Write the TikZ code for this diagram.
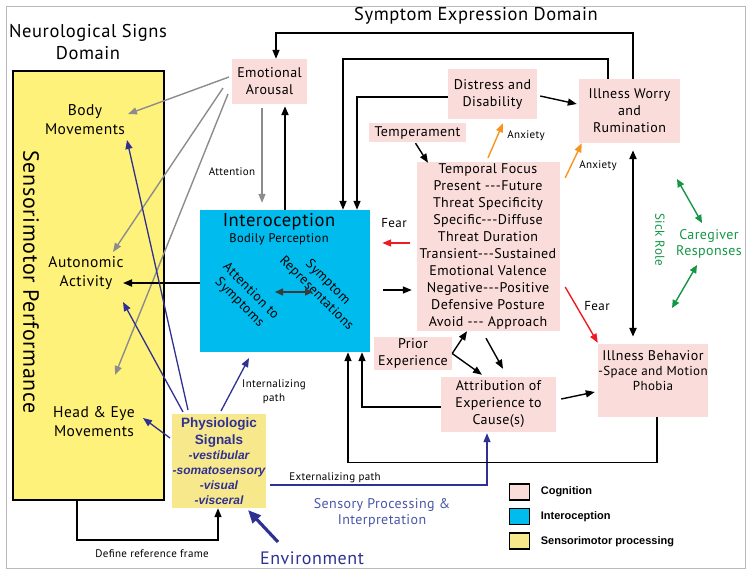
\documentclass[tikz,border=0pt]{standalone}
\usepackage{fontspec}
\setmainfont{PT Sans}[LetterSpace=3]
\newfontfamily\arialfont{Liberation Sans}
\usetikzlibrary{arrows.meta,calc,positioning}

\definecolor{cogpink}{RGB}{250,221,218}
\definecolor{introcyan}{RGB}{0,187,238}
\definecolor{smyellow}{RGB}{255,242,122}
\definecolor{physyellow}{RGB}{248,232,140}
\definecolor{navyblue}{RGB}{46,49,146}
\definecolor{sensblue}{RGB}{72,86,168}
\definecolor{cgreen}{RGB}{20,150,70}
\definecolor{anxorange}{RGB}{247,148,29}
\definecolor{fearred}{RGB}{237,28,36}
\definecolor{arrgray}{RGB}{140,140,140}
\definecolor{dblgray}{RGB}{58,58,58}

\tikzset{
  tip/.style={-{Triangle[length=9pt,width=7pt]}},
  arr/.style={tip, line width=1.4pt},
  cogbox/.style={fill=cogpink, align=center, inner sep=0pt,
    font=\fontsize{14}{17}\selectfont},
  smtext/.style={align=center, font=\fontsize{15.5}{19}\selectfont},
  title/.style={align=center, font=\fontsize{18.5}{22}\selectfont},
  smalllbl/.style={align=center, font=\fontsize{11}{14}\selectfont},
  swatch/.style={draw, line width=1.6pt, minimum width=20pt, minimum height=16pt, inner sep=0pt},
  legtext/.style={font=\arialfont\bfseries\fontsize{11}{13}\selectfont, anchor=west},
}

\begin{document}
\begin{tikzpicture}[x=1pt,y=-1pt]
\useasboundingbox (0,0) rectangle (752,576);
\draw[gray!55, line width=1pt] (6,6) rectangle (745,568);

% domains
\node[title] (neurotitle) at (88,42) {Neurological Signs\\Domain};
\node[title] (symtitle) at (476,16) {Symptom Expression Domain};

% sensorimotor block
\node[draw, line width=2pt, fill=smyellow, minimum width=151pt, minimum height=429pt, inner sep=0pt] (smbox) at (88.5,285.5) {};
\node[rotate=-90, font=\fontsize{22}{26}\selectfont] (smlabel) at (31,282) {Sensorimotor Performance};
\node[smtext] (body) at (85,120) {Body\\Movements};
\node[smtext] (auto) at (86,273) {Autonomic\\Activity};
\node[smtext] (head) at (94,422) {Head \& Eye\\Movements};

% cognition
\node[cogbox, minimum width=75pt, minimum height=45pt] (emo) at (269.5,81.5) {Emotional\\Arousal};
\node[cogbox, minimum width=89pt, minimum height=50pt] (distress) at (492.5,94) {Distress and\\Disability};
\node[cogbox, minimum width=101pt, minimum height=64pt] (worry) at (629.5,111) {Illness Worry\\and\\Rumination};
\node[cogbox, minimum width=97pt, minimum height=19pt] (temper) at (417.5,132.5) {Temperament};
\node[cogbox, minimum width=143pt, minimum height=169pt] (temporal) at (488,246.5)
  {Temporal Focus\\Present -{}-{}-Future\\Threat Specificity\\Specific-{}-{}-Diffuse\\Threat Duration\\
   Transient-{}-{}-Sustained\\Emotional Valence\\Negative-{}-{}-Positive\\Defensive Posture\\Avoid -{}-{}- Approach};
\node[cogbox, minimum width=78pt, minimum height=33pt] (prior) at (413,353.5) {Prior\\Experience};
\node[cogbox, minimum width=115pt, minimum height=55pt] (attrib) at (498.5,404.5) {Attribution of\\Experience to\\Cause(s)};
\node[cogbox, minimum width=110pt, minimum height=73pt, font=\fontsize{13}{15}\selectfont] (behav) at (653,380.5)
  {{\fontsize{14}{15}\selectfont Illness Behavior}\\-Space and Motion\\Phobia\\[4pt]};

% interoception
\node[fill=introcyan, minimum width=170pt, minimum height=142pt, inner sep=0pt] (intero) at (285,281) {};
\node[font=\fontsize{18.5}{20}\selectfont] (introtitle) at (279,222) {Interoception};
\node[font=\fontsize{12.5}{14}\selectfont] (bodily) at (279,239) {Bodily Perception};
\node[rotate=-45, align=center, inner sep=0pt, font=\fontsize{13.5}{16}\selectfont] (att) at (245,297) {Attention to\\Symptoms};
\node[rotate=-45, align=center, inner sep=0pt, font=\fontsize{13.5}{16}\selectfont] (rep) at (322,288) {Symptom\\Representations};
\draw[{Triangle[length=8pt,width=7pt]}-{Triangle[length=8pt,width=7pt]}, line width=1.4pt, dblgray]
  ($(att)+(30,-5)$) -- ($(rep)+(-9,4)$);

% physiologic signals
\node[fill=physyellow, minimum width=80pt, minimum height=94pt, inner sep=0pt, align=center, text=navyblue,
  font=\arialfont\bfseries\fontsize{12}{15}\selectfont] (physio) at (219,461)
  {{\fontsize{13.5}{18}\selectfont Physiologic}\\[2pt]{\fontsize{13.5}{18}\selectfont Signals}\\
   \itshape -vestibular\\{\setlength\fboxsep{0.5pt}\colorbox{physyellow}{\itshape -somatosensory}}\\\itshape -visual\\\itshape -visceral};
\node[font=\fontsize{18}{22}\selectfont, text=navyblue] (env) at (312,558) {Environment};
\node[align=center, text=sensblue, font=\fontsize{14}{16}\selectfont] (sensproc) at (382,513) {Sensory Processing \&\\Interpretation};

% labels
\node[smalllbl] (attlbl) at (232,172) {Attention};
\node[smalllbl] (intlbl) at (274,392) {Internalizing\\path};
\node[smalllbl] (extlbl) at (335,478) {Externalizing path};
\node[smalllbl] (reflbl) at (152,554) {Define reference frame};
\node[font=\fontsize{13}{15}\selectfont] (fear1) at (394,223) {Fear};
\node[font=\fontsize{13}{15}\selectfont] (fear2) at (597,306) {Fear};
\node[smalllbl] (anx1) at (526,136) {Anxiety};
\node[smalllbl] (anx2) at (598,166) {Anxiety};
\node[rotate=-90, text=cgreen, font=\fontsize{13}{15}\selectfont] (sick) at (660,240) {Sick Role};
\node[align=center, text=cgreen, font=\fontsize{14}{16}\selectfont] (care) at (709,244) {Caregiver\\Responses};

% legend
\node[swatch, fill=cogpink] (legcog) at (519.5,492) {};
\node[legtext, right=7pt of legcog] (legcogt) {Cognition};
\node[swatch, fill=introcyan, below=7pt of legcog] (legint) {};
\node[legtext, right=7pt of legint] (leginte) {Interoception};
\node[swatch, fill=physyellow, below=7pt of legint] (legsm) {};
\node[legtext, right=7pt of legsm] (legsmt) {Sensorimotor processing};

% feedback loops on top
\draw[arr] ($(worry.north)+(3.5,0)$) -- ++(0,-46) -| ($(emo.north)+(6.5,0)$);
\draw[arr] ($(worry.north)+(-21.5,0)$) -- ++(0,-20) -| ($(intero.north)+(58,0)$);
\draw[arr] ($(distress.west)+(0,3)$) -| ($(intero.north)+(72,0)$);
\draw[arr] ($(distress.east)+(3,2)$) -- ($(worry.west)+(-2,-7)$);
\draw[arr] ($(temper.south)+(-2,1)$) -- ($(temporal.north)+(-60,1)$);
\draw[tip, line width=1.4pt, anxorange] ($(temporal.north)+(0,-4)$) -- ($(distress.south)+(10.5,4)$);
\draw[tip, line width=1.4pt, anxorange] ($(temporal.north east)+(5.5,16)$) -- ($(worry.south west)+(3,0)$);

% emotional arousal
\draw[tip, line width=1.4pt, arrgray] ($(emo.south)+(-7.5,4)$) -- ($(intero.north)+(-23,-7)$);
\draw[arr, line width=2pt] (intero.north) -- ($(emo.south)+(15.5,2)$);
\draw[tip, line width=1.4pt, arrgray] ($(emo)+(-40.5,-4.5)$) -- ($(body)+(43,-6)$);
\draw[tip, line width=1.4pt, arrgray] ($(emo)+(-46.5,6.5)$) -- ($(auto)+(27,-21)$);
\draw[tip, line width=1.4pt, arrgray] ($(emo)+(-41.5,12.5)$) -- ($(head)+(21,-47)$);
\draw[arr, line width=1.8pt] ($(intero.west)+(0,2)$) -- ($(auto)+(37,10)$);

% physiologic paths
\draw[tip, line width=1.3pt, navyblue] ($(physio)+(-31,-51)$) -- ($(body)+(42,20)$);
\draw[tip, line width=1.3pt, navyblue] ($(physio)+(-36,-49)$) -- ($(auto)+(37,29)$);
\draw[tip, line width=1.3pt, navyblue] ($(physio)+(-49,-23)$) -- ($(head)+(49,-4)$);
\draw[tip, line width=1.3pt, navyblue] ($(physio)+(2,-50)$) -- ($(intero)+(-36,77)$);
\draw[tip, line width=1.3pt, navyblue] ($(physio.east)+(4,24)$) -| ($(attrib.south)+(-11.5,1)$);
\draw[-{Triangle[length=13pt,width=11pt]}, line width=3.2pt, navyblue] ($(env)+(-34,-16)$) -- ($(physio)+(29,49)$);
\draw[arr] ($(smbox.south)+(-11.5,0)$) -- ++(0,39) -| ($(physio.south)+(-1,0)$);

% back to interoception
\draw[arr] ($(behav.south)+(4,0)$) -- ++(0,45) -| ($(intero.south)+(63,0)$);
\draw[arr] ($(attrib.west)+(0,2.5)$) -| ($(intero.south)+(77,0)$);
\draw[arr] ($(intero.east)+(13,9)$) -- ($(temporal.west)+(-4.5,43.5)$);
\draw[tip, line width=1.4pt, fearred] ($(temporal.west)+(-6.5,-3.5)$) -- ($(intero.east)+(12,-38)$);
\draw[tip, line width=1.4pt, fearred] ($(temporal.east)+(5.5,40.5)$) -- ($(behav.north west)+(0,-1)$);
\draw[arr] (prior.east) -- ($(temporal.south)+(-21,0)$);
\draw[arr] (prior.east) -- ($(attrib.north)+(-16.5,-2)$);
\draw[arr] ($(temporal.south)+(-2,7)$) -- ($(attrib.north)+(4.5,-8)$);
\draw[arr] ($(attrib.east)+(5,-5.5)$) -- ($(behav.west)+(-3,11.5)$);
\draw[{Triangle[length=9pt,width=7pt]}-{Triangle[length=9pt,width=7pt]}, line width=2.2pt]
  ($(worry.south)+(3.5,7)$) -- ($(behav.north)+(-20,-7)$);

% caregiver
\draw[{Triangle[length=8pt,width=7pt]}-{Triangle[length=8pt,width=7pt]}, line width=1.4pt, cgreen]
  ($(care)+(-32,-65)$) -- ($(care)+(-7,-21)$);
\draw[{Triangle[length=8pt,width=7pt]}-{Triangle[length=8pt,width=7pt]}, line width=1.4pt, cgreen]
  ($(care)+(-12,21)$) -- ($(care)+(-37,64)$);
\end{tikzpicture}
\end{document}
